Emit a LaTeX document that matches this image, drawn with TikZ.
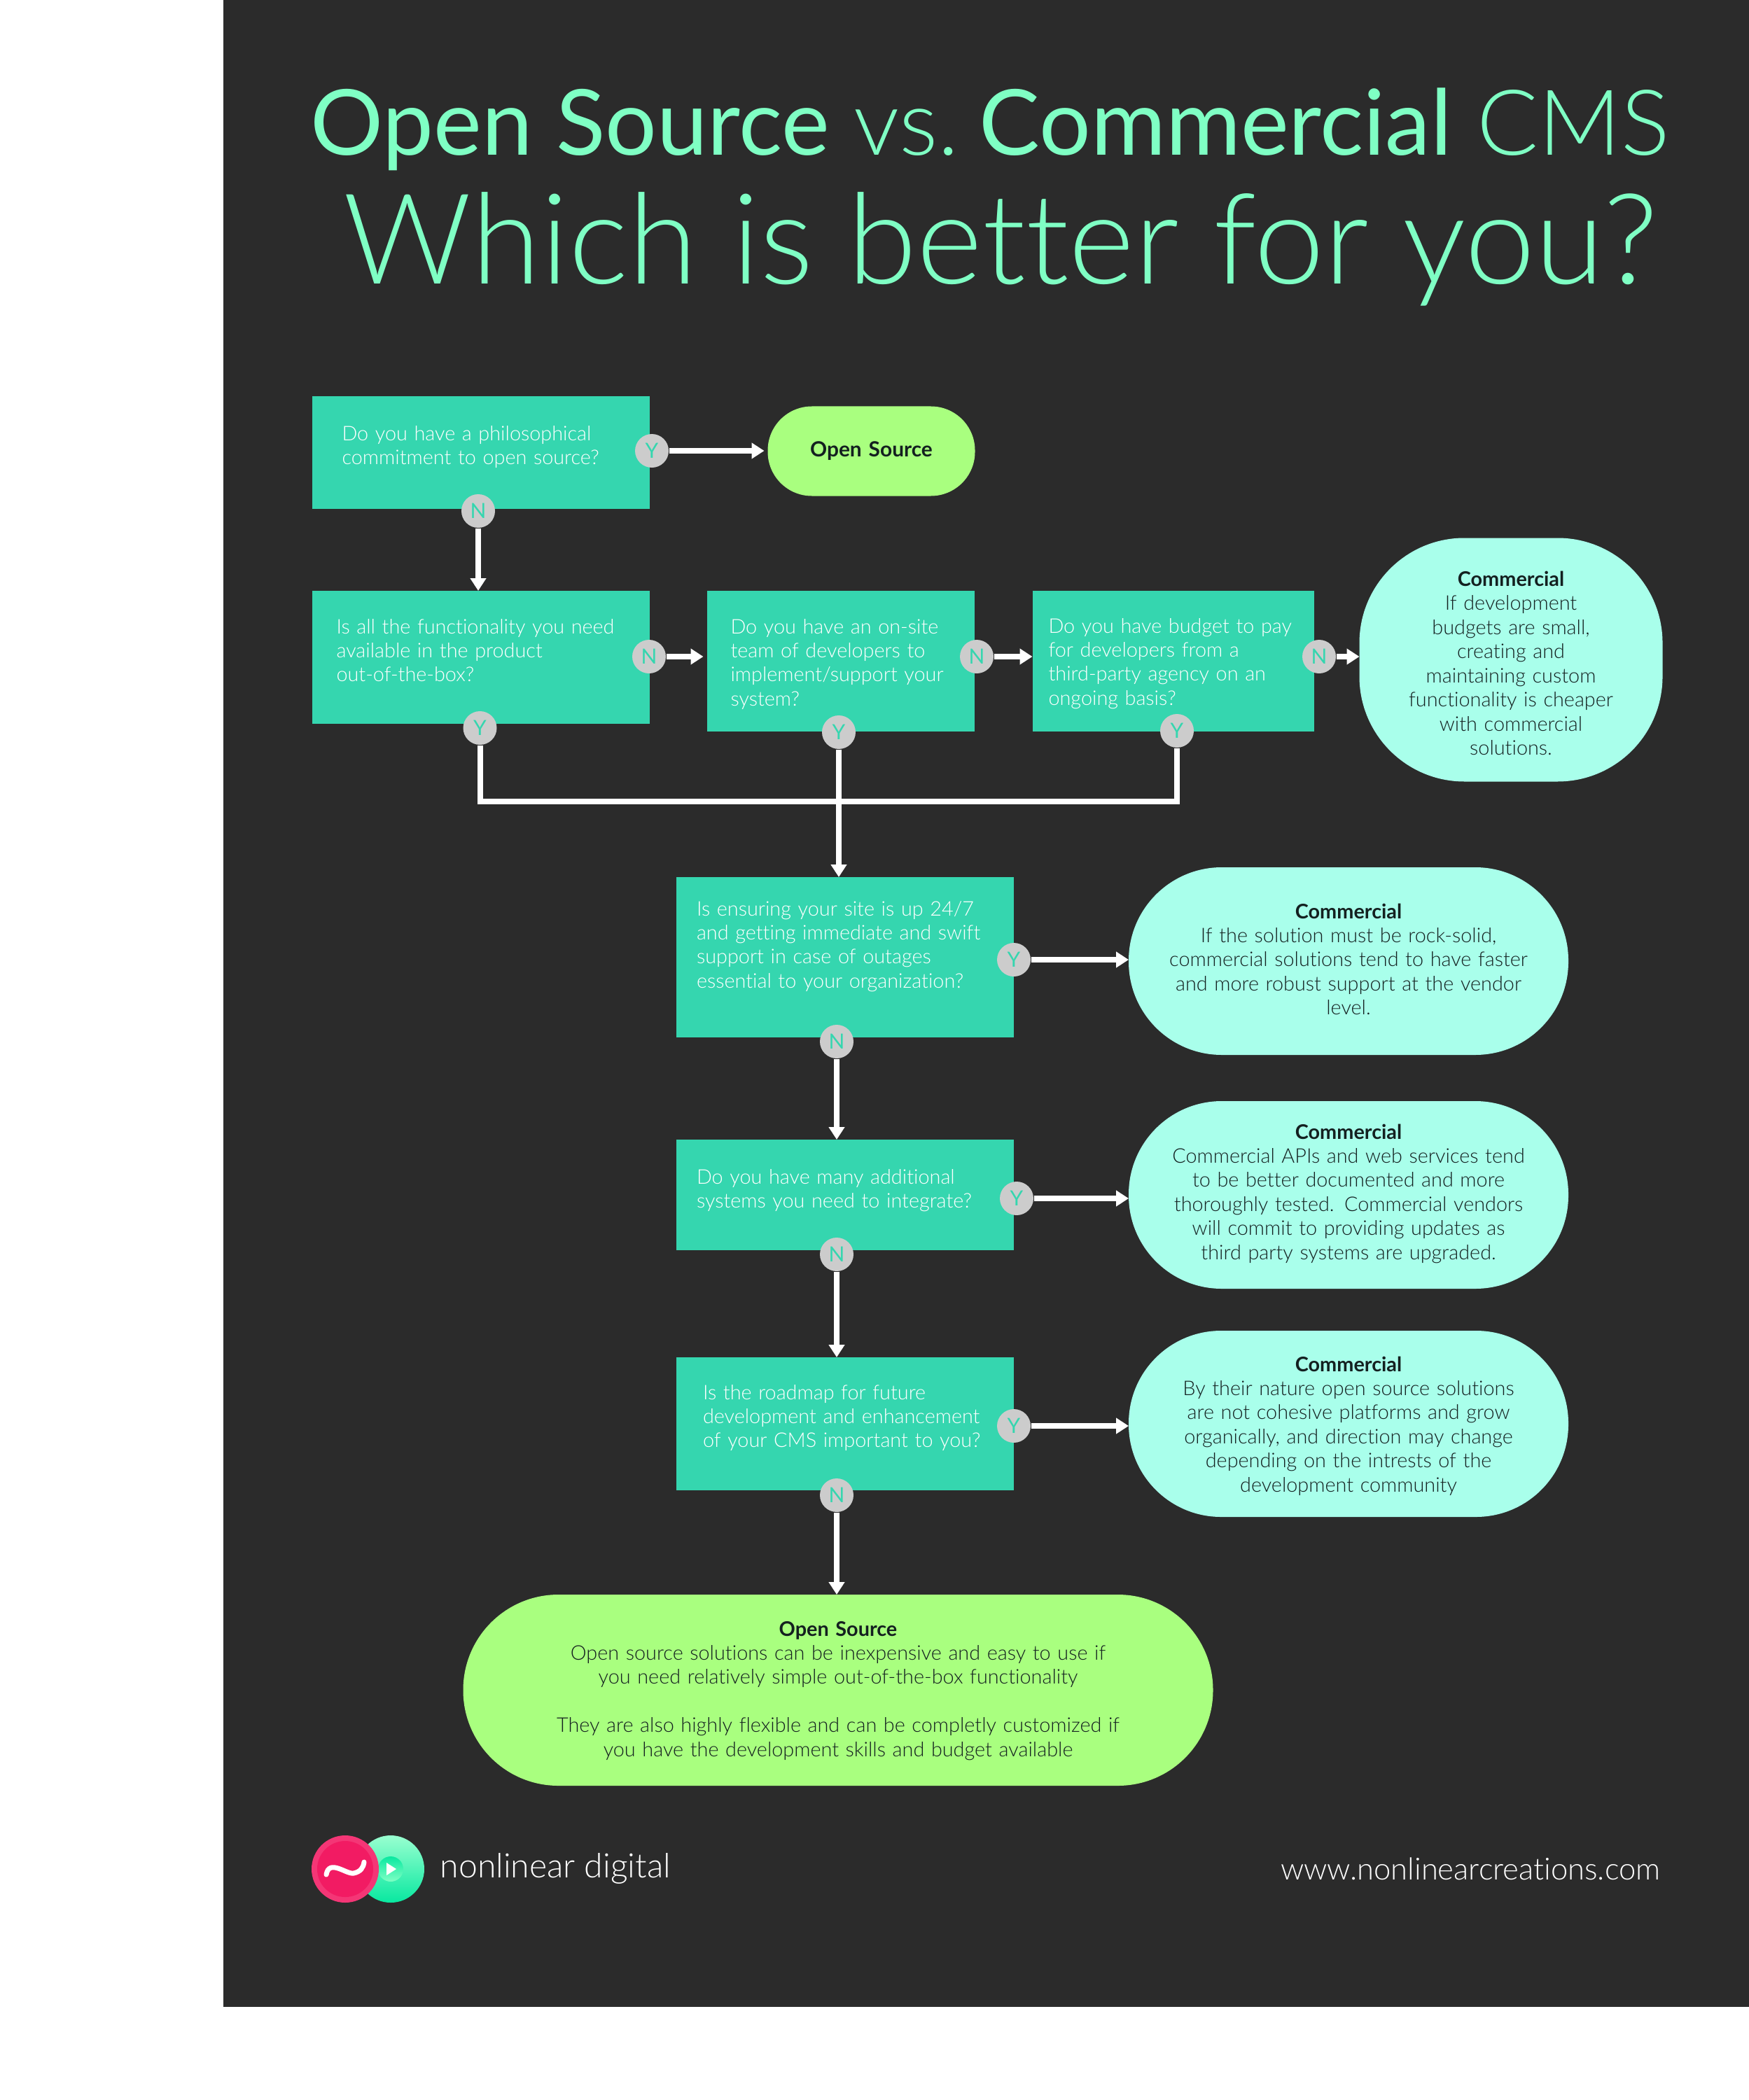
\documentclass[tikz,border=0pt]{standalone}
\usepackage{fontspec}
\setmainfont{Lato}[UprightFont=* Light, BoldFont=* Bold, Ligatures=NoCommon]
\newfontface\plainlato{Lato Regular}
\usepackage{xcolor}
\usetikzlibrary{arrows.meta,positioning}
\definecolor{slate}{HTML}{2B2B2B}
\definecolor{teal}{HTML}{35D6AF}
\definecolor{aqua}{HTML}{A9FFEB}
\definecolor{lime}{HTML}{A9FF7F}
\definecolor{mint}{HTML}{7FFFC4}
\definecolor{ink}{HTML}{142020}
\definecolor{badgegray}{HTML}{CCCCCC}
\definecolor{logored}{HTML}{F21B63}
\definecolor{logogreen}{HTML}{08E8A0}

\begin{document}
\begin{tikzpicture}[
    bodyfont/.style={font=\fontsize{8.2}{9.8}\selectfont},
    block/.style n args={4}{
        rectangle,
        inner xsep=#4,
        inner ysep=0pt,
        outer sep=0pt,
        text width=#1-2*#4,
        text height=#3,
        text depth=#2-#3,
        bodyfont
    },
    question/.style n args={4}{
        block={#1}{#2}{#3}{#4},
        fill=teal,
        text=white,
        align=left
    },
    verdict/.style n args={4}{
        block={#1}{#2}{#3}{0.1cm},
        rounded corners=#4,
        fill=aqua,
        text=ink,
        align=center
    },
    winner/.style n args={4}{
        verdict={#1}{#2}{#3}{#4},
        fill=lime
    },
    badge/.style={
        circle,
        fill=badgegray,
        text=teal,
        inner sep=0pt,
        minimum size=0.48cm,
        font=\plainlato\fontsize{8.5}{8.5}\selectfont
    },
    arrow/.style={-{Triangle[length=0.18cm,width=0.22cm]}, line width=0.08cm, white},
    wire/.style={line width=0.08cm, white, line join=miter}
]
\useasboundingbox (0,0) rectangle (24.98,-30);
\fill[white] (0,0) rectangle (24.98,-30);
\fill[slate] (3.19,0) rectangle (24.98,-28.67);

% title
\node[anchor=base west, inner sep=0pt, text=mint, font=\fontsize{37}{37}\selectfont] (titletop) at (4.43,-2.22)
    {{\plainlato Open Source} vs.\hspace{-0.18cm} {\plainlato Commercial} CMS};
\node[anchor=base west, inner sep=0pt, text=mint, font=\fontsize{51.2}{51.2}\selectfont] (titlemain) at (4.90,-4.06)
    {Which is better for you?};

% question blocks
\node[question={4.82cm}{1.61cm}{0.63cm}{0.43cm}, anchor=north west] (qphil) at (4.455,-5.66)
    {Do you have a philosophical\\commitment to open source?};
\node[question={4.82cm}{1.90cm}{0.61cm}{0.35cm}, below=1.17cm of qphil] (qfunc)
    {Is all the functionality you need\\available in the product\\out-of-the-box?};
\node[question={3.82cm}{2.01cm}{0.61cm}{0.34cm}, right=0.82cm of qfunc.north east, anchor=north west] (qteam)
    {Do you have an on-site\\team of developers to\\implement/support your\\system?};
\node[question={4.02cm}{2.01cm}{0.60cm}{0.23cm}, right=0.83cm of qteam.north east, anchor=north west] (qbudget)
    {Do you have budget to pay\\for developers from a\\third-party agency on an\\ongoing basis?};
\node[question={4.82cm}{2.29cm}{0.55cm}{0.29cm}, anchor=north west] (qup) at (9.66,-12.53)
    {Is ensuring your site is up 24/7\\and getting immediate and swift\\support in case of outages\\essential to your organization?};
\node[question={4.82cm}{1.58cm}{0.63cm}{0.29cm}, below=1.46cm of qup] (qapi)
    {Do you have many additional\\systems you need to integrate?};
\node[question={4.82cm}{1.90cm}{0.60cm}{0.38cm}, below=1.53cm of qapi] (qroad)
    {Is the roadmap for future\\development and enhancement\\of your CMS important to you?};

% outcomes
\node[winner={2.96cm}{1.28cm}{0.72cm}{0.63cm}, right=1.69cm of qphil, yshift=0.02cm, font=\fontsize{8.5}{9.8}\selectfont] (osshort)
    {\textbf{Open Source}};
\node[verdict={4.33cm}{3.48cm}{0.69cm}{1.5cm}, right=0.65cm of qbudget, yshift=0.02cm] (cbudget)
    {\textbf{Commercial}\\If development\\budgets are small,\\creating and\\maintaining custom\\functionality is cheaper\\with commercial\\solutions.};
\node[verdict={6.28cm}{2.68cm}{0.73cm}{1.33cm}, right=1.64cm of qup, yshift=-0.055cm] (cup)
    {\textbf{Commercial}\\If the solution must be rock-solid,\\commercial solutions tend to have faster\\and more robust support at the vendor\\level.};
\node[verdict={6.28cm}{2.68cm}{0.54cm}{1.33cm}, right=1.64cm of qapi] (capi)
    {\textbf{Commercial}\\Commercial APIs and web services tend\\to be better documented and more\\thoroughly tested. Commercial vendors\\will commit to providing updates as\\third party systems are upgraded.};
\node[verdict={6.28cm}{2.66cm}{0.58cm}{1.32cm}, right=1.64cm of qroad] (croad)
    {\textbf{Commercial}\\By their nature open source solutions\\are not cohesive platforms and grow\\organically, and direction may change\\depending on the intrests of the\\development community};
\node[winner={10.71cm}{2.73cm}{0.59cm}{1.36cm}, below=1.49cm of qroad, xshift=-0.1cm] (osfinal)
    {\textbf{Open Source}\\Open source solutions can be inexpensive and easy to use if\\you need relatively simple out-of-the-box functionality\\[0.344cm]They are also highly flexible and can be completly customized if\\you have the development skills and budget available};

% badges
\node[badge] (yphil) at (9.31,-6.44) {Y};
\node[badge] (nphil) at (6.83,-7.30) {N};
\node[badge] (nfunc) at (9.27,-9.38) {N};
\node[badge] (yfunc) at (6.855,-10.40) {Y};
\node[badge] (nteam) at (13.95,-9.38) {N};
\node[badge] (yteam) at (11.98,-10.46) {Y};
\node[badge] (nbudget) at (18.84,-9.38) {N};
\node[badge] (ybudget) at (16.81,-10.44) {Y};
\node[badge] (yup) at (14.48,-13.71) {Y};
\node[badge] (nup) at (11.95,-14.88) {N};
\node[badge] (yapi) at (14.52,-17.12) {Y};
\node[badge] (napi) at (11.95,-17.92) {N};
\node[badge] (yroad) at (14.48,-20.37) {Y};
\node[badge] (nroad) at (11.95,-21.36) {N};

% connectors
\coordinate (merge) at (6.855,-11.45);
\draw[arrow, shorten >=0.05cm] (yphil) -- (yphil -| osshort.west);
\draw[arrow] (nphil) -- (nphil |- qfunc.north);
\draw[arrow, shorten >=0.05cm] (nfunc) -- (nfunc -| qteam.west);
\draw[arrow] (nteam) -- (nteam -| qbudget.west);
\draw[arrow] (nbudget) -- (nbudget -| cbudget.west);
\draw[wire] (yfunc) -- (merge) -| (ybudget);
\draw[arrow] (yteam) -- (yteam |- qup.north);
\draw[arrow] (yup) -- (yup -| cup.west);
\draw[arrow] (nup) -- (nup |- qapi.north);
\draw[arrow] (yapi) -- (yapi -| capi.west);
\draw[arrow] (napi) -- (napi |- qroad.north);
\draw[arrow] (yroad) -- (yroad -| croad.west);
\draw[arrow] (nroad) -- (nroad |- osfinal.north);

% footer
\shade[top color=mint!80!white, bottom color=logogreen] (5.58,-26.70) circle (0.48cm);
\shade[top color=logogreen, bottom color=mint] (5.58,-26.70) circle (0.18cm);
\fill[white] (5.52,-26.61) -- (5.66,-26.70) -- (5.52,-26.79) -- cycle;
\fill[logored!88!white] (4.93,-26.70) circle (0.48cm);
\fill[logored] (4.93,-26.70) circle (0.40cm);
\draw[white, line width=0.07cm, line cap=round] (4.66,-26.78) .. controls (4.70,-26.55) and (4.95,-26.78) .. (5.05,-26.76) .. controls (5.15,-26.74) and (5.19,-26.68) .. (5.20,-26.60);
\node[anchor=base west, inner sep=0pt, text=white, font=\fontsize{13.7}{13.7}\selectfont] (brand) at (6.28,-26.82) {nonlinear digital};
\node[anchor=base east, inner sep=0pt, text=white, font=\fontsize{12.4}{12.4}\selectfont] (website) at (23.72,-26.85) {www.nonlinearcreations.com};
\end{tikzpicture}
\end{document}
